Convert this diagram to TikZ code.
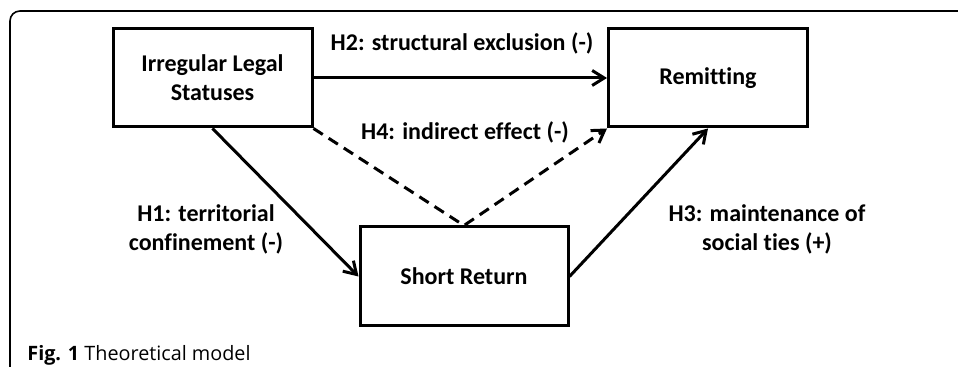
\documentclass[tikz,border=0pt]{standalone}
\usepackage{fontspec}
\setmainfont{Carlito}[Ligatures=NoCommon]
\newfontfamily\capfont{Open Sans}
\usepackage{tikz}
\usetikzlibrary{arrows.meta,positioning}

\begin{document}
\begin{tikzpicture}[x=0.5pt,y=0.5pt,
    var/.style={draw, line width=1.5pt, minimum width=99.5pt, minimum height=49pt,
        align=center, font=\bfseries\fontsize{12}{14.5}\selectfont},
    hyp/.style={align=center, font=\bfseries\fontsize{12}{14.5}\selectfont},
    link/.style={line width=1.5pt, -{Straight Barb[length=6pt,width=7.5pt]}}]
    \clip (0,0) rectangle (958,367);
    % frame
    \draw[line width=0.8pt, rounded corners=5pt] (10,-20) -- (10,356) -- (980,356);
    % variables
    \node[var] (ils) at (212.5,289) {Irregular Legal\\Statuses};
    \node[var] (rem) at (708,289) {Remitting};
    \node[var, minimum width=104pt, minimum height=49.5pt] (sr) at (464,90.5) {Short Return};
    % hypotheses
    \draw[link] (ils.east) -- (rem.west);
    \draw[link] (ils.south) -- (sr.west);
    \draw[link] (sr.east) -- (rem.south);
    \draw[link, dash pattern=on 5.5pt off 3.5pt] (ils.south east) -- (sr.north) -- (rem.south west);
    \node[hyp] (h2) at (462,324) {H2: structural exclusion (-)};
    \node[hyp] (h4) at (465,235) {H4: indirect effect (-)};
    \node[hyp] (h1) at (206,138) {H1: territorial\\confinement (-)};
    \node[hyp] (h3) at (767,138) {H3: maintenance of\\social ties (+)};
    % caption
    \node[anchor=west, inner sep=0pt, font=\capfont\fontsize{9.9}{12}\selectfont] (cap) at (27,12)
        {\textbf{Fig. 1} Theoretical model};
\end{tikzpicture}
\end{document}
